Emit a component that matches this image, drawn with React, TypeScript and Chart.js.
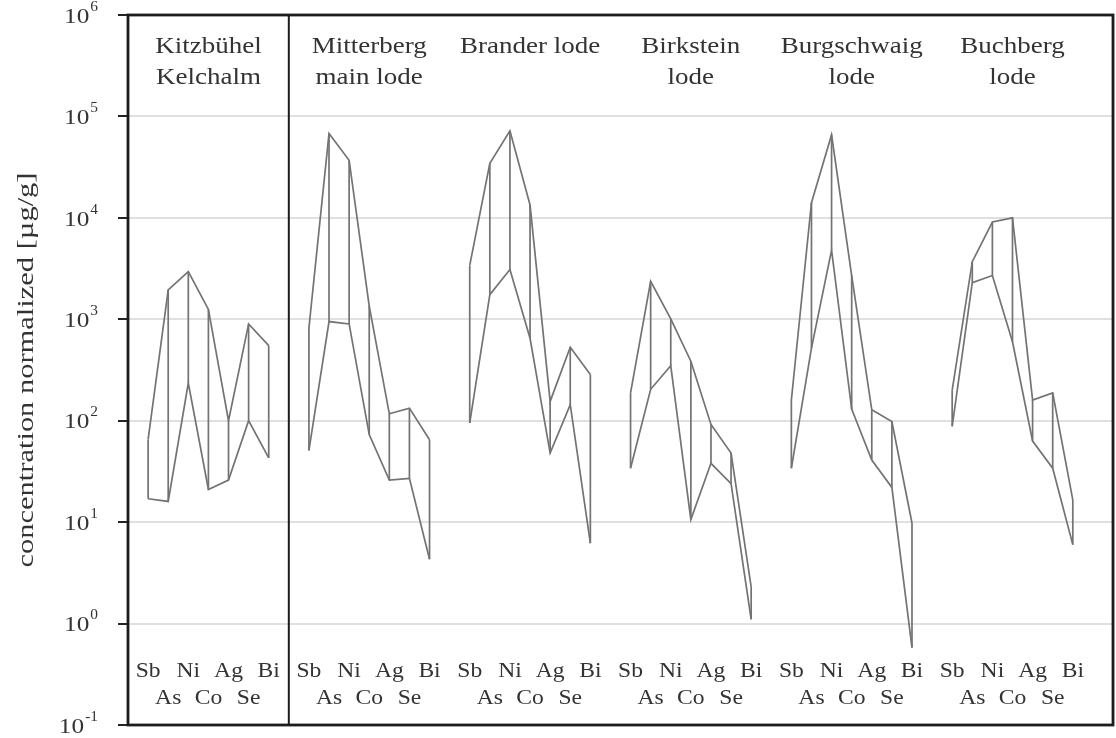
import React, { useEffect, useRef } from "react";
import { Chart, registerables } from "chart.js";
Chart.register(...registerables);

// ---- data ----
const elements = ["Sb", "As", "Ni", "Co", "Ag", "Se", "Bi"];
const groupTitles = [
  ["Kitzbühel", "Kelchalm"],
  ["Mitterberg", "main lode"],
  ["Brander lode"],
  ["Birkstein", "lode"],
  ["Burgschwaig", "lode"],
  ["Buchberg", "lode"],
];
const kitzbuehelMax = [65, 1950, 2950, 1250, 100, 900, 550];
const kitzbuehelMin = [17, 16, 235, 21, 26, 100, 43];
const mitterbergMax = [820, 68000, 37000, 1350, 117, 133, 65];
const mitterbergMin = [51, 950, 900, 73, 26, 27, 4.3];
const branderMax = [3400, 34500, 72000, 13400, 155, 530, 285];
const branderMin = [95, 1750, 3100, 650, 48, 144, 6.2];
const birksteinMax = [188, 2370, 1010, 386, 92, 48, 2.3];
const birksteinMin = [34, 204, 348, 10.6, 38, 24, 1.1];
const burgschwaigMax = [160, 14100, 65900, 2700, 128, 98, 9.8];
const burgschwaigMin = [34, 520, 4800, 130, 41, 22, 0.58];
const buchbergMax = [200, 3700, 9100, 10000, 160, 188, 16.6];
const buchbergMin = [88, 2300, 2700, 600, 63, 34, 6.0];
const yTickExponents = [6, 5, 4, 3, 2, 1, 0, -1];

const groupMax = [kitzbuehelMax, mitterbergMax, branderMax, birksteinMax, burgschwaigMax, buchbergMax];
const groupMin = [kitzbuehelMin, mitterbergMin, branderMin, birksteinMin, burgschwaigMin, buchbergMin];

const SLOTS = elements.length + 1; // one empty slot between groups
const xOf = (g: number, i: number) => 1 + g * SLOTS + i;

const LINE = "#737373";
const TEXT = "#333";
const FONT = '"Liberation Serif", "DejaVu Serif", serif';

function drawText(ctx: CanvasRenderingContext2D, text: string, x: number, y: number, size: number, sx: number, align: CanvasTextAlign) {
  ctx.save();
  ctx.translate(x, y);
  ctx.scale(sx, 1);
  ctx.font = `${size}px ${FONT}`;
  ctx.textAlign = align;
  ctx.textBaseline = "middle";
  ctx.fillStyle = TEXT;
  ctx.fillText(text, 0, 0);
  ctx.restore();
}

const decorPlugin = {
  id: "decor",
  afterDraw(chart: any) {
    const ctx: CanvasRenderingContext2D = chart.ctx;
    const { left, right, top, bottom } = chart.chartArea;
    const xs = chart.scales.x;
    const ys = chart.scales.y;
    ctx.save();
    // frame
    ctx.strokeStyle = "#1c1c1c";
    ctx.lineWidth = 2.8;
    ctx.strokeRect(left, top, right - left, bottom - top);
    // divider after first group
    const dx = xs.getPixelForValue(SLOTS);
    ctx.lineWidth = 2;
    ctx.beginPath();
    ctx.moveTo(dx, top);
    ctx.lineTo(dx, bottom);
    ctx.stroke();

    // y tick labels 10^n
    yTickExponents.forEach((e) => {
      const y = ys.getPixelForValue(Math.pow(10, e));
      const sup = String(e);
      ctx.font = `14px ${FONT}`;
      const supW = ctx.measureText(sup).width * 1.1;
      const rightEdge = 98;
      drawText(ctx, sup, rightEdge, y - 8, 14, 1.1, "right");
      drawText(ctx, "10", rightEdge - supW - 1, y + 2, 22, 1.15, "right");
    });

    // y axis title
    ctx.save();
    ctx.translate(27, (top + bottom) / 2);
    ctx.rotate(-Math.PI / 2);
    ctx.scale(1.27, 1);
    ctx.font = `24px ${FONT}`;
    ctx.textAlign = "center";
    ctx.textBaseline = "middle";
    ctx.fillStyle = TEXT;
    ctx.fillText("concentration normalized [µg/g]", 0, 0);
    ctx.restore();

    // group titles
    groupTitles.forEach((lines, g) => {
      const cx = xs.getPixelForValue(xOf(g, 3));
      lines.forEach((t, k) => {
        drawText(ctx, t, cx, top + 32 + k * 31, 22.5, 1.2, "center");
      });
    });

    // element labels
    groupTitles.forEach((_, g) => {
      elements.forEach((el, i) => {
        const px = xs.getPixelForValue(xOf(g, i));
        const y = i % 2 === 0 ? bottom - 53 : bottom - 26;
        drawText(ctx, el, px, y, 20.5, 1.15, "center");
      });
    });
    ctx.restore();
  },
};

function buildDatasets() {
  const ds: any[] = [];
  groupMax.forEach((maxArr, g) => {
    const minArr = groupMin[g];
    const base = { borderColor: LINE, borderWidth: 1.7, pointRadius: 0, tension: 0, fill: false, spanGaps: false };
    ds.push({ ...base, label: `max ${g}`, data: maxArr.map((v, i) => ({ x: xOf(g, i), y: v })) });
    ds.push({ ...base, label: `min ${g}`, data: minArr.map((v, i) => ({ x: xOf(g, i), y: v })) });
    const vert: any[] = [];
    maxArr.forEach((v, i) => {
      vert.push({ x: xOf(g, i), y: v });
      vert.push({ x: xOf(g, i), y: minArr[i] });
      vert.push({ x: xOf(g, i), y: null });
    });
    ds.push({ ...base, label: `range ${g}`, data: vert });
  });
  return ds;
}

export default function App() {
  const ref = useRef<HTMLCanvasElement | null>(null);
  useEffect(() => {
    if (!ref.current) return;
    const chart = new Chart(ref.current, {
      type: "line",
      data: { datasets: buildDatasets() },
      options: {
        animation: false,
        responsive: true,
        maintainAspectRatio: false,
        layout: { padding: { left: 0, top: 15, right: 3, bottom: 0 } },
        plugins: { legend: { display: false }, tooltip: { enabled: false } },
        scales: {
          x: {
            type: "linear",
            min: 0,
            max: groupTitles.length * SLOTS + 1,
            ticks: { display: false },
            grid: { display: false },
            border: { display: false },
            afterFit: (s: any) => { s.height = 13; },
          },
          y: {
            type: "logarithmic",
            min: Math.pow(10, yTickExponents[yTickExponents.length - 1]),
            max: Math.pow(10, yTickExponents[0]),
            ticks: { display: false },
            afterBuildTicks: (s: any) => { s.ticks = yTickExponents.map((e) => ({ value: Math.pow(10, e) })); },
            grid: { color: "#e0e0e0", lineWidth: 2, tickColor: "#222", tickLength: 10, tickWidth: 2 },
            border: { display: false },
            afterFit: (s: any) => { s.width = 128; },
          },
        },
      },
      plugins: [decorPlugin],
    });
    return () => chart.destroy();
  }, []);
  return (
    <div style={{ position: "fixed", left: 0, top: 0, width: 1116, height: 738, background: "#fff" }}>
      <canvas ref={ref} />
    </div>
  );
}
